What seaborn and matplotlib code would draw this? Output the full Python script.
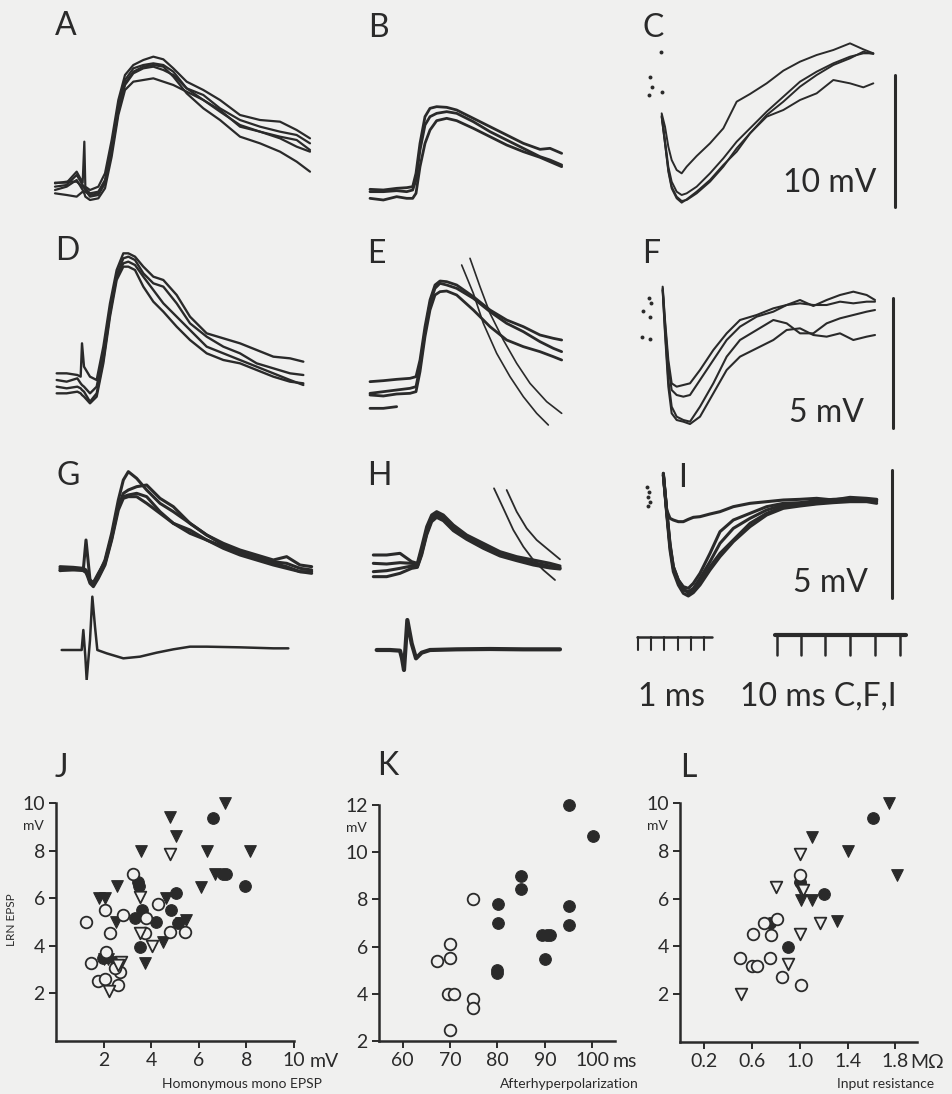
import numpy as np
import pandas as pd
import matplotlib
matplotlib.use("Agg")
import matplotlib.pyplot as plt
import seaborn as sns

sns.set_theme(style="white")
plt.rcParams['font.family'] = ['Lato', 'DejaVu Sans']

BG = '#f0f0ef'
INK = '#2a2a2a'
W, H = 953, 1094

A_t = [45, 80, 110, 128, 133, 136, 150, 175, 195, 215, 235, 255, 280, 310, 340, 370, 400, 440, 490, 540, 600, 660, 720, 770, 810]
A_1 = [548, 548, 515, 548, 425, 560, 570, 560, 520, 420, 300, 225, 195, 180, 170, 178, 205, 245, 270, 300, 345, 360, 365, 390, 415]
A_2 = [560, 555, 525, 555, 560, 565, 580, 575, 540, 440, 320, 240, 205, 195, 190, 195, 215, 265, 285, 325, 360, 380, 395, 405, 430]
A_3 = [580, 585, 590, 575, 580, 590, 600, 595, 565, 470, 345, 270, 245, 240, 235, 245, 255, 275, 300, 330, 380, 395, 410, 420, 450]
A_4 = [550, 545, 545, 560, 565, 570, 590, 585, 550, 450, 330, 250, 215, 200, 195, 200, 230, 280, 325, 360, 410, 430, 455, 485, 515]
A_5 = [570, 560, 540, 570, 575, 575, 585, 580, 545, 455, 335, 255, 220, 205, 200, 210, 225, 265, 300, 335, 375, 395, 415, 440, 455]

B_t = [90, 130, 170, 200, 218, 228, 240, 255, 270, 290, 320, 350, 400, 450, 500, 550, 600, 630, 665]
B_1 = [568, 570, 565, 563, 560, 520, 430, 350, 325, 320, 322, 330, 355, 380, 405, 430, 448, 445, 460]
B_2 = [575, 575, 572, 575, 570, 540, 450, 375, 350, 340, 335, 340, 365, 395, 420, 445, 470, 480, 495]
B_3 = [595, 600, 590, 595, 595, 580, 500, 430, 390, 362, 355, 362, 385, 410, 435, 455, 472, 485, 500]

C_t = [185, 195, 205, 215, 230, 245, 260, 290, 330, 370, 410, 450, 500, 550, 600, 650, 700, 750, 790, 820]
C_1 = [340, 380, 440, 480, 510, 520, 500, 468, 430, 385, 305, 282, 250, 212, 185, 165, 150, 130, 148, 160]
C_2 = [345, 420, 500, 545, 575, 585, 580, 560, 520, 475, 425, 385, 335, 290, 245, 215, 190, 170, 160, 160]
C_3 = [350, 430, 510, 560, 590, 603, 600, 580, 545, 500, 445, 400, 345, 305, 260, 225, 195, 175, 155, 162]
C_4 = [350, 430, 515, 565, 595, 608, 598, 575, 540, 495, 455, 400, 350, 330, 300, 280, 240, 250, 262, 250]
C_dot_t = [182, 150, 155, 148, 185]
C_dot_v = [155, 232, 262, 285, 275]

D_t = [50, 80, 112, 122, 126, 132, 150, 170, 190, 210, 230, 250, 265, 285, 310, 340, 370, 410, 450, 500, 550, 600, 650, 700, 750, 790]
D_1 = [460, 460, 465, 470, 370, 440, 470, 480, 380, 250, 150, 100, 100, 110, 140, 170, 180, 225, 290, 340, 355, 370, 390, 410, 415, 425]
D_2 = [480, 485, 475, 490, 495, 500, 520, 500, 400, 270, 165, 115, 110, 120, 160, 190, 200, 250, 310, 350, 380, 400, 430, 445, 460, 465]
D_3 = [500, 505, 500, 505, 510, 515, 545, 520, 420, 280, 170, 130, 125, 135, 170, 210, 250, 290, 330, 380, 400, 420, 440, 460, 480, 495]
D_4 = [520, 520, 515, 520, 525, 530, 550, 530, 430, 290, 180, 140, 140, 150, 200, 245, 275, 320, 360, 400, 420, 430, 450, 470, 485, 490]

E_t = [90, 130, 170, 210, 228, 240, 255, 270, 285, 300, 320, 350, 400, 450, 500, 550, 600, 640, 665]
E_1 = [485, 482, 478, 475, 470, 420, 320, 240, 195, 183, 185, 195, 230, 270, 300, 320, 345, 355, 360]
E_2 = [520, 515, 510, 505, 500, 440, 335, 250, 205, 190, 195, 205, 235, 275, 310, 335, 365, 385, 395]
E_3 = [525, 528, 522, 520, 515, 455, 350, 270, 225, 215, 213, 225, 270, 320, 360, 380, 395, 410, 420]
E_short_t = [90, 130, 170]
E_short_v = [565, 565, 560]
E_s1_t = [365, 400, 430, 470, 510, 550, 590, 625]
E_s1_v = [135, 220, 310, 400, 470, 530, 580, 615]
E_s2_t = [390, 420, 450, 490, 530, 570, 620, 665]
E_s2_v = [115, 200, 280, 360, 430, 490, 545, 580]

F_t = [188, 195, 205, 215, 230, 250, 270, 300, 340, 380, 420, 470, 520, 560, 600, 640, 680, 720, 760, 800, 825]
F_1 = [200, 300, 420, 490, 500, 495, 490, 450, 390, 340, 300, 285, 265, 255, 240, 258, 240, 225, 215, 225, 240]
F_2 = [205, 310, 440, 510, 525, 530, 525, 480, 420, 360, 320, 290, 275, 255, 250, 255, 255, 245, 250, 245, 245]
F_3 = [210, 330, 480, 560, 590, 600, 605, 560, 490, 410, 360, 330, 300, 310, 340, 340, 310, 295, 285, 275, 270]
F_4 = [210, 340, 500, 580, 600, 605, 612, 590, 520, 450, 410, 385, 360, 330, 325, 345, 350, 340, 360, 350, 345]
F_dot_t = [148, 152, 128, 150, 125, 150]
F_dot_v = [235, 250, 272, 290, 350, 357]

G_t = [60, 100, 130, 138, 143, 150, 160, 175, 195, 215, 235, 250, 265, 290, 320, 360, 400, 450, 500, 550, 600, 650, 700, 740, 780, 815]
G_1 = [385, 385, 388, 300, 350, 420, 430, 405, 360, 280, 180, 120, 95, 115, 150, 190, 215, 250, 285, 310, 330, 345, 360, 350, 375, 380]
G_2 = [390, 390, 390, 395, 405, 425, 435, 410, 370, 295, 200, 160, 150, 140, 135, 175, 200, 250, 285, 315, 335, 350, 365, 370, 385, 390]
G_3 = [380, 382, 385, 390, 400, 420, 428, 400, 365, 290, 195, 170, 165, 160, 170, 215, 250, 280, 300, 320, 340, 355, 370, 380, 395, 395]
G_4 = [392, 388, 392, 398, 410, 430, 440, 415, 375, 300, 210, 175, 170, 170, 190, 220, 250, 270, 300, 325, 345, 360, 375, 385, 395, 400]
GL_t = [65, 125, 130, 136, 140, 150, 157, 165, 172, 200, 250, 300, 350, 400, 450, 500, 600, 700, 745]
GL_v = [630, 630, 570, 650, 720, 600, 470, 560, 630, 640, 655, 650, 638, 628, 620, 620, 622, 625, 625]

H_t = [100, 140, 180, 215, 232, 245, 260, 275, 290, 310, 340, 380, 430, 480, 530, 580, 630, 660]
H_1 = [345, 345, 340, 365, 370, 320, 260, 225, 215, 225, 255, 285, 310, 335, 350, 360, 370, 378]
H_2 = [370, 372, 368, 370, 375, 330, 270, 232, 222, 232, 262, 290, 318, 340, 355, 368, 378, 383]
H_3 = [395, 392, 385, 378, 380, 340, 280, 240, 228, 238, 268, 295, 322, 345, 358, 372, 382, 385]
H_4 = [410, 410, 400, 385, 382, 345, 285, 245, 232, 242, 272, 298, 325, 348, 362, 375, 384, 387]
HS1_t = [462, 490, 520, 550, 580, 610, 645]
HS1_v = [145, 205, 270, 320, 360, 390, 420]
HS2_t = [500, 530, 560, 590, 620, 660]
HS2_v = [150, 215, 265, 300, 325, 358]
HL_t = [110, 150, 180, 186, 192, 202, 215, 228, 245, 270, 350, 450, 550, 660]
HL_v = [630, 630, 632, 655, 690, 540, 610, 655, 638, 630, 628, 627, 628, 628]

I_t = [190, 200, 210, 220, 235, 250, 265, 280, 300, 330, 360, 400, 450, 500, 550, 600, 650, 700, 750, 800, 830]
I_1 = [40, 150, 175, 180, 185, 185, 178, 172, 170, 162, 155, 140, 130, 125, 120, 118, 115, 120, 112, 115, 118]
I_2 = [40, 150, 250, 320, 360, 385, 400, 390, 365, 320, 280, 240, 190, 160, 140, 135, 130, 125, 120, 120, 125]
I_3 = [45, 160, 270, 335, 375, 400, 408, 398, 375, 330, 290, 245, 200, 165, 145, 138, 132, 128, 125, 125, 130]
I_4 = [45, 155, 260, 325, 365, 390, 395, 385, 355, 305, 250, 205, 175, 150, 135, 130, 125, 120, 118, 118, 120]
I_5 = [45, 150, 255, 320, 360, 380, 385, 370, 340, 280, 215, 180, 160, 140, 130, 128, 122, 118, 116, 118, 120]
I_dot_t = [142, 148, 145, 150, 143]
I_dot_v = [80, 95, 110, 125, 138]

# calibration bars
ms1_ticks = [113, 153, 193, 233, 273, 313]
ms10_ticks = [530, 602, 676, 750, 825, 900]

# ---------------- scatter data ----------------
J_open_circle_x = [1.26, 2.05, 2.26, 2.82, 3.24, 3.73, 3.77, 4.29, 4.78, 5.43, 1.49, 2.12, 1.77, 2.05, 2.6, 2.68, 2.47]
J_open_circle_y = [5.0, 5.5, 4.53, 5.3, 7.02, 4.53, 5.16, 5.75, 4.6, 4.57, 3.26, 3.75, 2.52, 2.6, 2.35, 2.9, 3.05]
J_filled_circle_x = [6.59, 7.0, 7.15, 7.95, 3.45, 3.5, 5.06, 4.85, 4.22, 3.6, 3.3, 3.52, 5.13, 1.98]
J_filled_circle_y = [9.37, 7.0, 7.0, 6.5, 6.7, 6.5, 6.2, 5.5, 5.0, 5.5, 5.15, 3.96, 4.95, 3.47]
J_filled_tri_x = [7.1, 4.8, 5.05, 3.56, 6.33, 8.14, 2.57, 1.8, 2.05, 2.5, 6.1, 6.66, 4.5, 3.73, 4.64, 5.47, 5.27, 2.0, 2.2, 2.4]
J_filled_tri_y = [10.0, 9.4, 8.6, 8.0, 8.0, 8.0, 6.5, 6.0, 6.0, 5.0, 6.45, 7.0, 4.15, 3.26, 6.0, 5.1, 4.95, 3.45, 3.45, 3.3]
J_open_tri_x = [4.78, 3.52, 3.52, 4.05, 2.22, 2.75, 2.6]
J_open_tri_y = [7.85, 6.07, 4.55, 4.0, 2.1, 3.33, 3.2]

K_open_x = [67.3, 69.9, 69.9, 69.6, 70.8, 69.9, 74.9, 74.8, 74.8]
K_open_y = [5.39, 6.1, 5.5, 4.0, 4.0, 2.47, 8.0, 3.77, 3.38]
K_filled_x = [95, 100.1, 84.9, 84.9, 80.1, 80.1, 80, 80, 89.4, 90.4, 91.1, 90.1, 95, 95]
K_filled_y = [12, 10.7, 9.0, 8.43, 7.8, 7.0, 5.0, 4.87, 6.5, 6.5, 6.5, 5.47, 7.72, 6.92]

L_filled_tri_x = [1.75, 1.10, 1.40, 1.81, 1.01, 1.10, 1.31, 1.0]
L_filled_tri_y = [10.0, 8.57, 8.0, 6.98, 5.93, 5.93, 5.06, 6.45]
L_filled_circle_x = [1.61, 1.0, 1.2, 0.75, 0.9]
L_filled_circle_y = [9.37, 6.7, 6.18, 4.98, 3.96]
L_open_circle_x = [1.0, 0.81, 0.7, 0.61, 0.76, 0.5, 0.6, 0.64, 0.75, 0.85, 1.01]
L_open_circle_y = [6.98, 5.16, 4.98, 4.53, 4.48, 3.52, 3.2, 3.2, 3.5, 2.74, 2.38]
L_open_tri_x = [1.0, 0.8, 1.03, 1.17, 1.0, 0.9, 0.51]
L_open_tri_y = [7.87, 6.49, 6.35, 4.98, 4.5, 3.26, 2.0]

J_ticks = [2, 4, 6, 8, 10]
K_xticks = [60, 70, 80, 90, 100]
K_yticks = [2, 4, 6, 8, 10, 12]
L_xticks = [0.2, 0.6, 1.0, 1.4, 1.8]
L_xticklabels = ['0.2', '0.6', '1.0', '1.4', '1.8']

# ---------------- figure ----------------
fig = plt.figure(figsize=(W / 100, H / 100), dpi=100, facecolor=BG)


def trace_ax(x, y, w, h):
    ax = fig.add_axes([x / W, 1 - (y + h) / H, w / W, h / H])
    ax.patch.set_alpha(0)
    ax._lim = (3 * w, 3 * h)
    return ax


def finish(ax):
    ax.set_xlim(0, ax._lim[0])
    ax.set_ylim(ax._lim[1], 0)
    ax.axis('off')


def line(ax, t, v, lw=1.8):
    sns.lineplot(x=t, y=v, ax=ax, sort=False, estimator=None, color=INK,
                 lw=lw, legend=False)


def dots(ax, t, v):
    sns.scatterplot(x=t, y=v, ax=ax, color=INK, s=8, edgecolor=INK, linewidth=0, legend=False)


big = dict(fontsize=23, color=INK, fontweight='normal')

# Row 1
axA = trace_ax(40, 0, 300, 230)
for v in (A_1, A_2, A_3, A_4, A_5):
    line(axA, A_t, v, lw=1.6)
finish(axA)

axB = trace_ax(340, 0, 290, 230)
for v in (B_1, B_2, B_3):
    line(axB, B_t, v, lw=2.0)
finish(axB)

axC = trace_ax(600, 0, 353, 230)
for v in (C_1, C_2, C_3, C_4):
    line(axC, C_t, v, lw=1.4)
dots(axC, C_dot_t, C_dot_v)
line(axC, [885, 885], [225, 620], lw=2.2)
axC.text(690, 575, '10 mV', ha='center', va='baseline', **big)
finish(axC)

# Row 2
axD = trace_ax(40, 220, 300, 230)
for v in (D_1, D_2, D_3, D_4):
    line(axD, D_t, v, lw=1.7)
finish(axD)

axE = trace_ax(340, 220, 290, 230)
for v in (E_1, E_2, E_3):
    line(axE, E_t, v, lw=2.0)
line(axE, E_short_t, E_short_v, lw=2.0)
line(axE, E_s1_t, E_s1_v, lw=1.2)
line(axE, E_s2_t, E_s2_v, lw=1.2)
finish(axE)

axF = trace_ax(600, 220, 353, 230)
for v in (F_1, F_2, F_3, F_4):
    line(axF, F_t, v, lw=1.5)
dots(axF, F_dot_t, F_dot_v)
line(axF, [878, 878], [235, 625], lw=2.2)
axF.text(680, 605, '5 mV', ha='center', va='baseline', **big)
finish(axF)

# Row 3
axG = trace_ax(40, 440, 300, 240)
for v in (G_1, G_2, G_3, G_4):
    line(axG, G_t, v, lw=2.2)
line(axG, GL_t, GL_v, lw=1.8)
finish(axG)

axH = trace_ax(340, 440, 290, 240)
for v in (H_1, H_2, H_3, H_4):
    line(axH, H_t, v, lw=2.2)
line(axH, HS1_t, HS1_v, lw=1.3)
line(axH, HS2_t, HS2_v, lw=1.3)
line(axH, HL_t, HL_v, lw=3.0)
finish(axH)

axI = trace_ax(600, 460, 353, 250)
for v in (I_1, I_2, I_3, I_4, I_5):
    line(axI, I_t, v, lw=2.2)
dots(axI, I_dot_t, I_dot_v)
line(axI, [877, 877], [30, 415], lw=2.2)
axI.text(690, 395, '5 mV', ha='center', va='baseline', **big)
# calibration: 1 ms
line(axI, [110, 335], [530, 530], lw=1.8)
for tk in ms1_ticks:
    line(axI, [tk, tk], [530, 570], lw=1.5)
# calibration: 10 ms
line(axI, [525, 918], [525, 525], lw=3.0)
for tk in ms10_ticks:
    line(axI, [tk, tk], [525, 585], lw=1.8)
axI.text(215, 738, '1 ms', ha='center', va='baseline', **big)
axI.text(655, 738, '10 ms C,F,I', ha='center', va='baseline', **big)
finish(axI)

# panel letters
letters = [('A', 55, 35), ('B', 368, 37), ('C', 643, 37),
           ('D', 55, 260), ('E', 367, 263), ('F', 642, 263),
           ('G', 57, 485), ('H', 367, 485), ('I', 678, 487),
           ('J', 55, 777), ('K', 377, 775), ('L', 680, 777)]
for s, x, y in letters:
    fig.text(x / W, 1 - y / H, s, ha='left', va='baseline', fontsize=23,
             color=INK, fontweight='normal')


# ---------------- scatter panels ----------------
def scatter_ax(x, y, w, h):
    ax = fig.add_axes([x / W, 1 - (y + h) / H, w / W, h / H])
    ax.patch.set_alpha(0)
    return ax


def style_scatter(ax):
    for s in ('top', 'right'):
        ax.spines[s].set_visible(False)
    for s in ('left', 'bottom'):
        ax.spines[s].set_linewidth(1.8)
        ax.spines[s].set_color(INK)
    ax.tick_params(direction='out', length=5, width=1.4, colors=INK,
                   labelsize=14, pad=3, left=True, bottom=True)
    ax.set_xlabel('')
    ax.set_ylabel('')
    ax.grid(False)


def pts(ax, x, y, marker, filled, s=70):
    if filled:
        sns.scatterplot(x=x, y=y, ax=ax, marker=marker, s=s, color=INK,
                        edgecolor=INK, linewidth=0.8, legend=False, zorder=3,
                        clip_on=False)
    else:
        sns.scatterplot(x=x, y=y, ax=ax, marker=marker, s=s, color=BG,
                        edgecolor=INK, linewidth=1.3, legend=False, zorder=3,
                        clip_on=False)


def end_unit(ax, xval, txt, dx=11):
    ax.annotate(txt, xy=(xval, 0), xycoords=('data', 'axes fraction'),
                xytext=(dx, -8.5), textcoords='offset points',
                ha='left', va='top', fontsize=14, color=INK)


def top_unit(ax, txt):
    ax.annotate(txt, xy=(0, 1), xycoords='axes fraction',
                xytext=(-9, -12), textcoords='offset points',
                ha='right', va='top', fontsize=10, color=INK)


# J
axJ = scatter_ax(56, 803, 238, 238)
pts(axJ, J_filled_tri_x, J_filled_tri_y, 'v', True)
pts(axJ, J_filled_circle_x, J_filled_circle_y, 'o', True)
pts(axJ, J_open_circle_x, J_open_circle_y, 'o', False)
pts(axJ, J_open_tri_x, J_open_tri_y, 'v', False)
axJ.set_xlim(0, 10)
axJ.set_ylim(0, 10)
axJ.set_xticks(J_ticks)
axJ.set_yticks(J_ticks)
axJ.set_xticklabels([str(v) for v in J_ticks])
axJ.set_yticklabels([str(v) for v in J_ticks])
style_scatter(axJ)
end_unit(axJ, 10, 'mV')
top_unit(axJ, 'mV')
fig.text(162 / W, 1 - 1088 / H, 'Homonymous mono EPSP', ha='left', va='baseline',
         fontsize=10, color=INK)
fig.text(12 / W, 1 - 920 / H, 'LRN EPSP', ha='center', va='center', rotation=90,
         fontsize=8.5, color=INK)

# K
axK = scatter_ax(379, 805, 236, 236)
pts(axK, K_filled_x, K_filled_y, 'o', True)
pts(axK, K_open_x, K_open_y, 'o', False)
axK.set_xlim(55, 104.8)
axK.set_ylim(2, 12)
axK.set_xticks(K_xticks)
axK.set_yticks(K_yticks)
axK.set_xticklabels([str(v) for v in K_xticks])
axK.set_yticklabels([str(v) for v in K_yticks])
style_scatter(axK)
end_unit(axK, 100, 'ms', dx=15)
top_unit(axK, 'mV')
fig.text(500 / W, 1 - 1088 / H, 'Afterhyperpolarization', ha='left', va='baseline',
         fontsize=10, color=INK)

# L
axL = scatter_ax(680, 803, 237, 239)
pts(axL, L_filled_tri_x, L_filled_tri_y, 'v', True)
pts(axL, L_filled_circle_x, L_filled_circle_y, 'o', True)
pts(axL, L_open_circle_x, L_open_circle_y, 'o', False)
pts(axL, L_open_tri_x, L_open_tri_y, 'v', False)
axL.set_xlim(0, 1.98)
axL.set_ylim(0, 10)
axL.set_xticks(L_xticks)
axL.set_yticks(J_ticks)
axL.set_xticklabels(L_xticklabels)
axL.set_yticklabels([str(v) for v in J_ticks])
style_scatter(axL)
end_unit(axL, 1.8, 'MΩ', dx=11)
top_unit(axL, 'mV')
fig.text(837 / W, 1 - 1088 / H, 'Input resistance', ha='left', va='baseline',
         fontsize=10, color=INK)

fig.savefig('out.png', dpi=100, facecolor=BG)
